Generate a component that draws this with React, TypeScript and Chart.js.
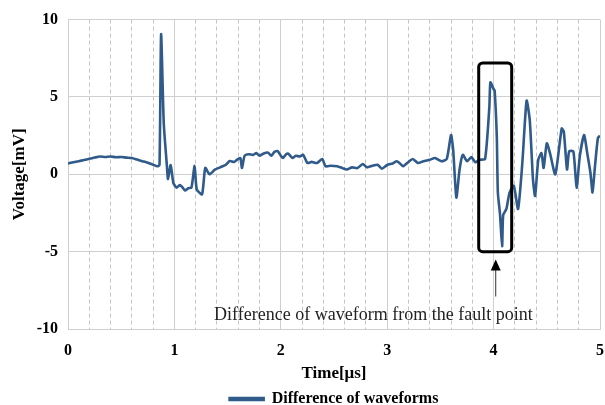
import { useEffect, useRef } from 'react';
import { Chart, registerables } from 'chart.js';

Chart.register(...registerables);

const timeUs = [
  0.00, 0.05, 0.10, 0.15, 0.20, 0.25, 0.30, 0.35, 0.40, 0.45, 0.50, 0.55, 0.60, 0.65, 0.70, 0.75, 0.80, 0.84,
  0.86, 0.875, 0.90, 0.93, 0.94, 0.965, 0.99, 1.02, 1.05, 1.07, 1.10, 1.13, 1.16, 1.19, 1.21, 1.26, 1.29,
  1.33, 1.38, 1.43, 1.48, 1.52, 1.56, 1.59, 1.62, 1.635, 1.66, 1.70, 1.74, 1.77, 1.80, 1.84, 1.88, 1.91,
  1.94, 1.97, 2.00, 2.02, 2.05, 2.07, 2.11, 2.14, 2.18, 2.21, 2.25, 2.29, 2.34, 2.39, 2.42, 2.47, 2.53,
  2.58, 2.62, 2.67, 2.72, 2.77, 2.81, 2.86, 2.91, 2.95, 3.00, 3.05, 3.09, 3.12, 3.15, 3.20, 3.24, 3.29,
  3.34, 3.40, 3.45, 3.51, 3.56, 3.60, 3.62, 3.65, 3.68, 3.71, 3.75, 3.79, 3.83, 3.87, 3.92, 3.96, 3.97,
  4.00, 4.01, 4.03, 4.04, 4.06, 4.08, 4.09, 4.12, 4.15, 4.19, 4.23, 4.27, 4.31, 4.34, 4.37, 4.39, 4.42,
  4.45, 4.47, 4.50, 4.53, 4.58, 4.64, 4.66, 4.69, 4.71, 4.75, 4.78, 4.81, 4.85, 4.88, 4.91, 4.93, 4.95,
  4.98, 5.00,
];

const voltageMv = [
  0.70, 0.78, 0.85, 0.92, 1.00, 1.08, 1.15, 1.12, 1.15, 1.10, 1.12, 1.08, 1.05, 0.95, 0.85, 0.75, 0.62, 0.52,
  0.60, 9.05, 3.30, 0.50, -0.30, 0.60, -0.55, -0.86, -0.70, -0.80, -1.05, -0.90, -0.86, 0.54, -0.97, -1.29, 0.41,
  0.00, 0.30, 0.45, 0.60, 0.86, 0.80, 0.95, 1.05, 0.41, 1.20, 1.30, 1.25, 1.37, 1.20, 1.35, 1.40, 1.20,
  1.45, 1.50, 1.20, 1.05, 1.30, 1.33, 1.05, 1.20, 1.15, 1.26, 0.73, 0.80, 0.73, 0.99, 0.52, 0.55, 0.52,
  0.40, 0.31, 0.45, 0.40, 0.67, 0.45, 0.55, 0.62, 0.36, 0.60, 0.70, 0.84, 0.70, 0.52, 0.80, 0.99, 0.73,
  0.85, 0.94, 1.05, 0.84, 1.00, 2.54, 1.58, -1.50, 0.31, 1.26, 0.84, 1.11, 0.78, 0.94, 0.99, 4.34, 5.94,
  5.51, 5.40, 2.45, -1.18, -2.56, -4.65, -2.64, -2.24, -1.18, -0.75, -2.24, 0.73, 4.76, 3.49, -0.33, -1.39, 0.94,
  1.37, 0.41, 2.00, 1.37, 0.00, 2.96, 2.75, 0.31, 1.48, 1.48, -0.86, 1.16, 2.54, 1.37, 0.10, -1.18, 0.31,
  2.33, 2.50,
];

const seriesName = 'Difference of waveforms';
const xTitle = 'Time[μs]';
const yTitle = 'Voltage[mV]';
const xRange = [0, 5];
const yRange = [-10, 10];

const boxTime = [3.86, 4.17];
const boxVolt = [7.2, -5.0];
const arrowTime = 4.02;
const arrowVolt = [-5.5, -7.9];
const noteTime = 2.87;
const noteVolt = -9.1;
const noteText = 'Difference of waveform from the fault point';

const LINE = '#2f5a8a';
const SERIF = '"Liberation Serif", "Times New Roman", serif';

const annotationPlugin = {
  id: 'faultAnnotation',
  afterDatasetsDraw(chart: any) {
    const { ctx, scales } = chart;
    const x = scales.x;
    const y = scales.y;
    ctx.save();
    const bx0 = x.getPixelForValue(boxTime[0]);
    const bx1 = x.getPixelForValue(boxTime[1]);
    const by0 = y.getPixelForValue(boxVolt[0]);
    const by1 = y.getPixelForValue(boxVolt[1]);
    ctx.strokeStyle = '#000';
    ctx.lineWidth = 3;
    ctx.beginPath();
    ctx.roundRect(bx0, by0, bx1 - bx0, by1 - by0, 4);
    ctx.stroke();

    const ax = x.getPixelForValue(arrowTime);
    const ay0 = y.getPixelForValue(arrowVolt[0]);
    const ay1 = y.getPixelForValue(arrowVolt[1]);
    ctx.strokeStyle = '#333';
    ctx.lineWidth = 1;
    ctx.beginPath();
    ctx.moveTo(ax, ay0 + 8);
    ctx.lineTo(ax, ay1);
    ctx.stroke();
    ctx.fillStyle = '#000';
    ctx.beginPath();
    ctx.moveTo(ax, ay0);
    ctx.lineTo(ax - 5, ay0 + 11);
    ctx.lineTo(ax + 5, ay0 + 11);
    ctx.closePath();
    ctx.fill();

    ctx.font = `18px ${SERIF}`;
    ctx.fillStyle = '#222';
    ctx.textAlign = 'center';
    ctx.textBaseline = 'middle';
    ctx.fillText(noteText, x.getPixelForValue(noteTime), y.getPixelForValue(noteVolt));
    ctx.restore();
  },
};

const isInt = (v: number) => Math.abs(v - Math.round(v)) < 1e-6;

export default function App() {
  const ref = useRef<HTMLCanvasElement>(null);
  useEffect(() => {
    if (!ref.current) return;
    const data = timeUs.map((t, i) => ({ x: t, y: voltageMv[i] }));
    const chart = new Chart(ref.current, {
      type: 'line',
      data: {
        datasets: [
          {
            label: seriesName,
            data,
            borderColor: LINE,
            backgroundColor: LINE,
            borderWidth: 2.6,
            pointRadius: 0,
            tension: 0.2,
          },
        ],
      },
      options: {
        animation: false,
        responsive: false,
        layout: { padding: { left: 5, right: 5, top: 15, bottom: -12 } },
        plugins: {
          tooltip: { enabled: false },
          legend: {
            position: 'bottom',
            fullSize: false,
            labels: {
              font: { family: SERIF, size: 16, weight: 'bold' },
              color: '#000',
              boxWidth: 34,
              boxHeight: 2,
              padding: 3,
            },
          },
        },
        scales: {
          x: {
            type: 'linear',
            min: xRange[0],
            max: xRange[1],
            afterFit: (s: any) => {
              s.height = 59;
              s.paddingLeft = 0;
              s.paddingRight = 0;
            },
            ticks: {
              stepSize: 0.2,
              autoSkip: false,
              maxRotation: 0,
              padding: 12,
              color: '#000',
              font: { family: SERIF, size: 16, weight: 'bold' },
              callback: (v: any) => (isInt(Number(v)) ? String(Math.round(Number(v))) : ''),
            },
            grid: {
              drawTicks: false,
              color: (c: any) => (c.tick && isInt(c.tick.value) ? '#cfcfcf' : '#c4c4c4'),
              lineWidth: 1,
            },
            border: {
              color: '#cfcfcf',
              dash: (c: any) => (c.tick && !isInt(c.tick.value) ? [4, 3] : []),
            },
            title: {
              display: true,
              text: xTitle,
              color: '#000',
              font: { family: SERIF, size: 17, weight: 'bold' },
              padding: { top: 4, bottom: 4 },
            },
          },
          y: {
            min: yRange[0],
            max: yRange[1],
            afterFit: (s: any) => {
              s.width = 63;
            },
            ticks: {
              stepSize: 5,
              padding: 10,
              color: '#000',
              font: { family: SERIF, size: 16, weight: 'bold' },
            },
            grid: { drawTicks: false, color: '#cfcfcf', lineWidth: 1 },
            border: { color: '#cfcfcf' },
            title: {
              display: true,
              text: yTitle,
              color: '#000',
              font: { family: SERIF, size: 17, weight: 'bold' },
              padding: { top: 4, bottom: 4 },
            },
          },
        },
      },
      plugins: [annotationPlugin],
    } as any);
    return () => chart.destroy();
  }, []);
  return (
    <div style={{ position: 'fixed', left: 0, top: 0, width: 605, height: 405, background: '#fff' }}>
      <canvas ref={ref} width={605} height={405} />
    </div>
  );
}
